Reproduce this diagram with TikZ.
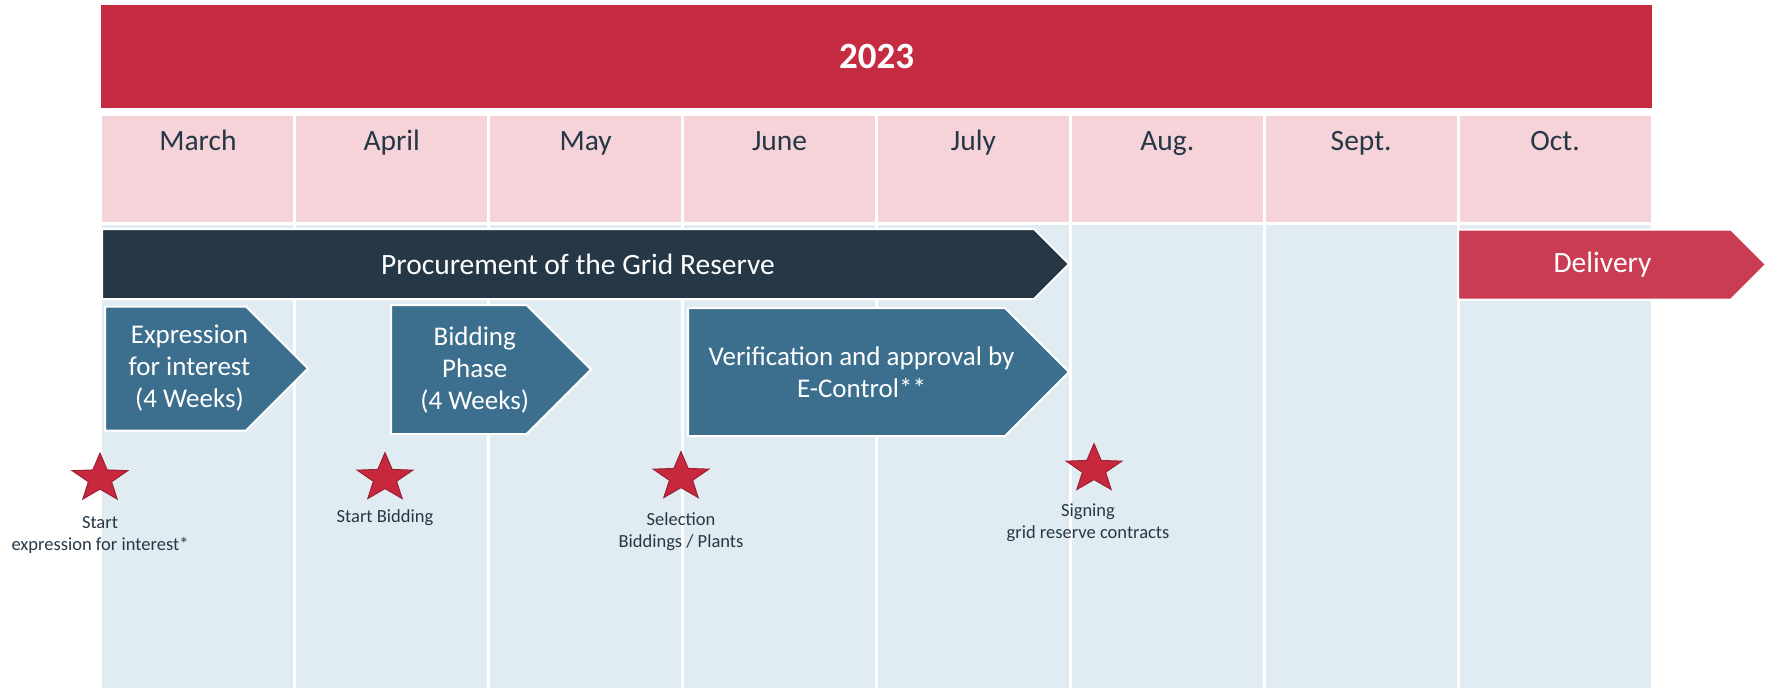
\documentclass[tikz,border=0pt]{standalone}
\usepackage{fontspec}
\setmainfont{Carlito}
\usetikzlibrary{shapes.symbols,shapes.geometric,positioning}

\definecolor{yearred}{HTML}{C52C42}
\definecolor{deliveryred}{HTML}{C93C51}
\definecolor{monthpink}{HTML}{F5D3D8}
\definecolor{bodyblue}{HTML}{E1ECF2}
\definecolor{navy}{HTML}{263746}
\definecolor{steel}{HTML}{3C6E8E}
\definecolor{starred}{HTML}{C8283E}
\definecolor{stardark}{HTML}{9C1F33}

\begin{document}
\begin{tikzpicture}[x=1pt,y=-1pt]
    \tikzstyle{yearbar}=[rectangle,fill=yearred,text=white,minimum width=1551pt,minimum height=103.5pt,font=\bfseries\fontsize{37}{40}\selectfont]
    \tikzstyle{monthcell}=[rectangle,fill=monthpink,text=navy,minimum width=190.9pt,minimum height=106pt,inner xsep=0pt,inner ysep=10pt,text height=24pt,text depth=62pt,font=\fontsize{29.5}{34}\selectfont]
    \tikzstyle{bodycol}=[rectangle,fill=bodyblue,minimum width=190.9pt,minimum height=463pt,inner sep=0pt]
    \tikzstyle{barbox}=[signal,signal to=east,signal pointer angle=90,draw=white,line width=2pt,inner sep=0pt,anchor=west]
    \tikzstyle{phasebox}=[barbox,fill=steel]
    \tikzstyle{bartext}=[text=white,align=center,inner sep=0pt,font=\fontsize{29.5}{34}\selectfont]
    \tikzstyle{phasetext}=[bartext,font=\fontsize{27}{32}\selectfont]
    \tikzstyle{milestone}=[star,star points=5,star point ratio=2.4,minimum size=50.8pt,inner sep=0pt,fill=starred,draw=stardark,line width=1pt,transform shape]
    \tikzstyle{starnote}=[text=navy,align=center,inner sep=0pt,font=\fontsize{18.5}{22}\selectfont]
    \def\colw{193.875}

    \useasboundingbox (0,0) rectangle (1766,688);

    % Year banner
    \node[yearbar] (year) at (876.5,56.3) {2023};

    % Month cells and the columns below them
    \foreach \m [count=\i] in {March,April,May,June,July,Aug.,Sept.,Oct.}
    {
        \node[monthcell] (month-\i) at (101+\colw*\i-\colw/2,169) {\m};
        \node[bodycol] (col-\i) at (101+\colw*\i-\colw/2,456.5) {};
    }

    % Overall bars
    \node[barbox,fill=navy,minimum width=967pt,minimum height=70pt,
          label={[bartext,xshift=10pt]center:Procurement of the Grid Reserve}] (procure) at (101,264) {};
    \node[barbox,fill=deliveryred,minimum width=308pt,minimum height=70pt,
          label={[bartext,xshift=8pt]center:Delivery}] (delivery) at (1457,264.5) {};

    % Phases
    \node[phasebox,minimum width=203pt,minimum height=124pt,
          label={[phasetext,xshift=14pt]center:Expression\\for interest\\(4 Weeks)}] (express) at (104,368.5) {};
    \node[phasebox,minimum width=200pt,minimum height=129pt,
          label={[phasetext,xshift=16pt]center:Bidding\\Phase\\(4 Weeks)}] (bidding) at (390,369.5) {};
    \node[phasebox,minimum width=381pt,minimum height=128pt,
          label={[phasetext,xshift=15pt]center:Verification and approval by\\E-Control**}] (verify) at (687,372) {};

    % Milestones
    \foreach \name/\x/\y in {1/100/478.5, 2/385/478, 3/681/477, 4/1094/469}
    {
        \begin{scope}[shift={(\x,\y)},xscale=1.15]
            \node[milestone] (star-\name) at (0,0) {};
        \end{scope}
    }

    \node[starnote,below=27pt of star-1] (note-1) {Start\\expression for interest*};
    \node[starnote,below=20pt of star-2] (note-2) {Start Bidding};
    \node[starnote,below=24pt of star-3] (note-3) {Selection\\Biddings / Plants};
    \node[starnote,below=23pt of star-4,xshift=-6pt] (note-4) {Signing\\grid reserve contracts};

\end{tikzpicture}
\end{document}
